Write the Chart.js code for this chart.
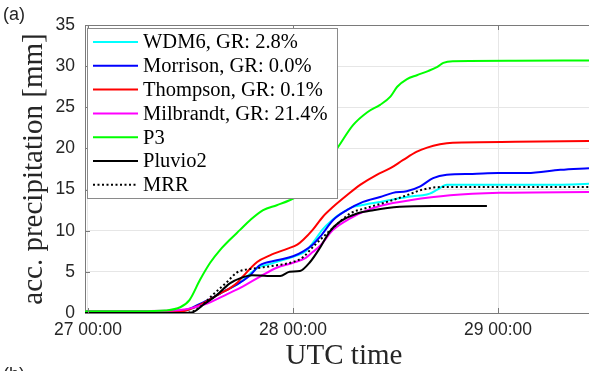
<!DOCTYPE html>
<html>
<head>
<meta charset="utf-8">
<script src="https://cdn.jsdelivr.net/npm/chart.js@4/dist/chart.umd.min.js"></script>
<style>
html,body{margin:0;padding:0;background:#fff;}
#wrap{width:589px;height:371px;position:relative;}
</style>
</head>
<body>
<div id="wrap"><canvas id="c" width="589" height="371"></canvas></div>
<script>
// ---- DATA (hours after 27 00:00 UTC, accumulated precipitation in mm) ----
const tickHours = [0, 24, 48];
const tickLabels = ['27 00:00', '28 00:00', '29 00:00'];
const yTicks = [0, 5, 10, 15, 20, 25, 30, 35];

const seriesNames = ['WDM6, GR: 2.8%', 'Morrison, GR: 0.0%', 'Thompson, GR: 0.1%',
  'Milbrandt, GR: 21.4%', 'P3', 'Pluvio2', 'MRR'];

const wdm6Hours  = [-0.35, 6, 10, 11.5, 12.5, 13.5, 14.5, 15.5, 16.6, 17.8, 19, 20.1, 21.5, 23, 24.5, 25.5, 26.3, 27.5, 28.5, 29.2, 30.3, 31, 32, 33, 34.2, 36.2, 38, 39.2, 40, 40.9, 42, 45, 50, 55, 58.65];
const wdm6Values = [0.1, 0.1, 0.15, 0.3, 0.7, 1.2, 1.8, 2.4, 3.0, 3.7, 4.8, 5.6, 6.0, 6.5, 7.0, 7.5, 8.5, 10.2, 11.2, 11.8, 12.5, 12.9, 13.1, 13.3, 13.5, 13.9, 14.2, 14.3, 14.5, 15.0, 15.6, 15.6, 15.6, 15.6, 15.7];

const morrisonHours  = [-0.35, 6, 10, 11.5, 12.5, 13.5, 14.5, 15.5, 16.6, 17.8, 19, 20.1, 22.1, 24, 25.2, 26.3, 27.2, 28.7, 30.3, 32.2, 34.2, 35.7, 37.3, 38.9, 40.4, 42, 45, 48, 51.4, 55.3, 58.65];
const morrisonValues = [0.2, 0.2, 0.25, 0.4, 0.8, 1.3, 1.8, 2.4, 3.0, 3.7, 4.6, 5.8, 6.4, 6.9, 7.5, 8.3, 9.3, 11.3, 12.5, 13.5, 14.1, 14.6, 14.8, 15.4, 16.4, 16.8, 16.9, 17.0, 17.0, 17.4, 17.6];

const thompsonHours  = [-0.35, 6, 10, 11.5, 12.5, 13.5, 14.5, 15.5, 16.6, 17.5, 18.1, 19.8, 21.3, 23.3, 24.5, 25.2, 26.3, 27.5, 28.7, 30.3, 31.9, 33.8, 35.4, 36.9, 38.5, 39.7, 41.2, 42.7, 50, 58.65];
const thompsonValues = [0.1, 0.1, 0.15, 0.3, 0.7, 1.2, 1.8, 2.4, 3.0, 3.7, 4.4, 6.2, 7.0, 7.8, 8.3, 8.9, 10.1, 11.7, 12.9, 14.3, 15.6, 16.8, 17.6, 18.6, 19.6, 20.1, 20.5, 20.7, 20.8, 20.9];

const milbrandtHours  = [-0.35, 6, 10, 11.5, 12.5, 13.5, 14.3, 16.3, 18.1, 20.1, 22.1, 24, 25.5, 26.3, 27.2, 28.7, 30.7, 32.7, 34.5, 37.7, 42.4, 48.2, 58.65];
const milbrandtValues = [0.25, 0.25, 0.3, 0.45, 0.7, 1.0, 1.3, 2.3, 3.2, 4.4, 5.5, 6.1, 6.7, 7.4, 8.2, 10.1, 11.5, 12.5, 13.1, 13.7, 14.3, 14.6, 14.7];

const p3Hours  = [-0.35, 6, 9, 10.8, 11.9, 13.1, 14.3, 15.5, 16.6, 17.8, 19.0, 20.5, 22.1, 23.6, 25, 27, 28.5, 29.3, 31.0, 32.7, 34.2, 35.4, 36.2, 37.3, 38.5, 39.8, 40.9, 41.6, 42.7, 50, 58.65];
const p3Values = [0.2, 0.2, 0.3, 0.7, 1.6, 4.0, 6.1, 7.7, 8.9, 10.1, 11.3, 12.5, 13.1, 13.7, 14.5, 17.0, 19.0, 20.2, 22.8, 24.4, 25.3, 26.3, 27.5, 28.4, 28.9, 29.4, 29.9, 30.4, 30.6, 30.65, 30.7];

const pluvioHours  = [-0.35, 11.5, 12.3, 13.5, 15.1, 16.6, 18.0, 19.2, 21.0, 22.5, 23.6, 24.8, 26.0, 27.2, 28.3, 29.5, 31.5, 33.4, 36.5, 40.4, 46.7];
const pluvioValues = [0.0, 0.0, 0.1, 1.0, 2.2, 3.6, 4.3, 4.6, 4.5, 4.5, 5.0, 5.1, 6.2, 8.0, 9.9, 11.1, 12.1, 12.5, 12.9, 13.0, 13.0];

const mrrHours  = [-0.35, 11.5, 12.3, 13.1, 14.6, 16.3, 17.4, 18.6, 20.1, 22.1, 24.0, 25.2, 26.3, 28.0, 29.5, 30.7, 32.7, 35.0, 37.3, 39.2, 41.2, 45, 58.65];
const mrrValues = [0.0, 0.0, 0.2, 0.7, 2.2, 3.8, 4.9, 5.3, 5.5, 5.8, 6.2, 6.8, 8.0, 9.7, 11.1, 12.1, 12.8, 13.5, 14.3, 15.0, 15.3, 15.3, 15.3];

// ---- styling ----
const seriesColors = ['#00ffff', '#0000ff', '#ff0000', '#ff00ff', '#00ff00', '#000000', '#000000'];
const seriesDash = [[], [], [], [], [], [], [2, 2.5]];
const seriesHours = [wdm6Hours, morrisonHours, thompsonHours, milbrandtHours, p3Hours, pluvioHours, mrrHours];
const seriesValues = [wdm6Values, morrisonValues, thompsonValues, milbrandtValues, p3Values, pluvioValues, mrrValues];

const datasets = seriesNames.map((name, i) => ({
  label: name,
  data: seriesHours[i].map((h, k) => ({x: h, y: seriesValues[i][k]})),
  borderColor: seriesColors[i],
  backgroundColor: seriesColors[i],
  borderWidth: 2,
  borderDash: seriesDash[i],
  pointRadius: 0,
  fill: false,
  cubicInterpolationMode: 'monotone',
  order: seriesNames.length - i
}));

const AXIS = '#7a7a7a';
const TEXT = '#262626';
const SERIF = '"Liberation Serif", "DejaVu Serif", serif';
const SANS = '"Liberation Sans", Arial, sans-serif';

const decor = {
  id: 'decor',
  afterDatasetsDraw(chart) {
    const {ctx, chartArea: a, scales: {x, y}} = chart;
    ctx.save();
    // top border
    ctx.strokeStyle = AXIS; ctx.lineWidth = 1;
    ctx.beginPath(); ctx.moveTo(a.left, a.top + 0.5); ctx.lineTo(a.right, a.top + 0.5); ctx.stroke();
    // inward ticks
    ctx.beginPath();
    tickHours.forEach(h => {
      const px = Math.round(x.getPixelForValue(h)) + 0.5;
      ctx.moveTo(px, a.bottom); ctx.lineTo(px, a.bottom - 5);
      ctx.moveTo(px, a.top); ctx.lineTo(px, a.top + 5);
    });
    yTicks.forEach(v => {
      const py = Math.round(y.getPixelForValue(v)) + 0.5;
      ctx.moveTo(a.left, py); ctx.lineTo(a.left + 5, py);
    });
    ctx.stroke();

    // legend box
    const lx = 87, ly = 28, lw = 250, lh = 170;
    ctx.fillStyle = '#ffffff';
    ctx.fillRect(lx, ly, lw, lh);
    ctx.strokeStyle = '#8a8a8a'; ctx.lineWidth = 1;
    ctx.strokeRect(lx + 0.5, ly + 0.5, lw, lh);
    ctx.font = '20.5px ' + SERIF;
    ctx.textBaseline = 'middle';
    ctx.textAlign = 'left';
    seriesNames.forEach((name, i) => {
      const ry = 42 + i * 23.8;
      ctx.strokeStyle = seriesColors[i];
      ctx.lineWidth = 2;
      ctx.setLineDash(seriesDash[i]);
      ctx.beginPath(); ctx.moveTo(93, ry); ctx.lineTo(138, ry); ctx.stroke();
      ctx.setLineDash([]);
      ctx.fillStyle = '#000000';
      ctx.fillText(name, 143, ry + 1);
    });
    ctx.restore();
  },
  afterDraw(chart) {
    const {ctx, chartArea: a} = chart;
    ctx.save();
    ctx.fillStyle = TEXT;
    // axis titles
    ctx.font = '29px ' + SERIF;
    ctx.textAlign = 'center';
    ctx.textBaseline = 'alphabetic';
    ctx.fillText('UTC time', 344, 364);
    ctx.save();
    ctx.translate(42, (a.top + a.bottom) / 2);
    ctx.rotate(-Math.PI / 2);
    ctx.fillText('acc. precipitation [mm]', 0, 0);
    ctx.restore();
    // panel labels
    ctx.font = '18px ' + SANS;
    ctx.textAlign = 'left';
    ctx.fillText('(a)', 3, 20);
    ctx.fillText('(b)', 3, 380);
    ctx.restore();
  }
};

new Chart(document.getElementById('c'), {
  type: 'line',
  data: {datasets},
  plugins: [decor],
  options: {
    responsive: false,
    animation: false,
    devicePixelRatio: 1,
    layout: {padding: {top: 25, right: 0, left: 0, bottom: 0}},
    plugins: {legend: {display: false}, tooltip: {enabled: false}},
    scales: {
      x: {
        type: 'linear',
        min: -0.35,
        max: 58.65,
        afterBuildTicks: s => { s.ticks = tickHours.map(v => ({value: v})); },
        afterFit: s => { s.height = 58; },
        ticks: {
          callback: v => { const k = tickHours.indexOf(v); return k >= 0 ? tickLabels[k] : ''; },
          font: {family: SANS, size: 17.5},
          color: TEXT,
          padding: 7,
          maxRotation: 0,
          autoSkip: false
        },
        grid: {color: '#e6e6e6', drawTicks: false},
        border: {color: AXIS, width: 1}
      },
      y: {
        min: 0,
        max: 35,
        afterBuildTicks: s => { s.ticks = yTicks.map(v => ({value: v})); },
        afterFit: s => { s.width = 85; },
        ticks: {
          font: {family: SANS, size: 17.5},
          color: TEXT,
          padding: 10
        },
        grid: {color: '#e6e6e6', drawTicks: false},
        border: {color: AXIS, width: 1}
      }
    }
  }
});
</script>
</body>
</html>
